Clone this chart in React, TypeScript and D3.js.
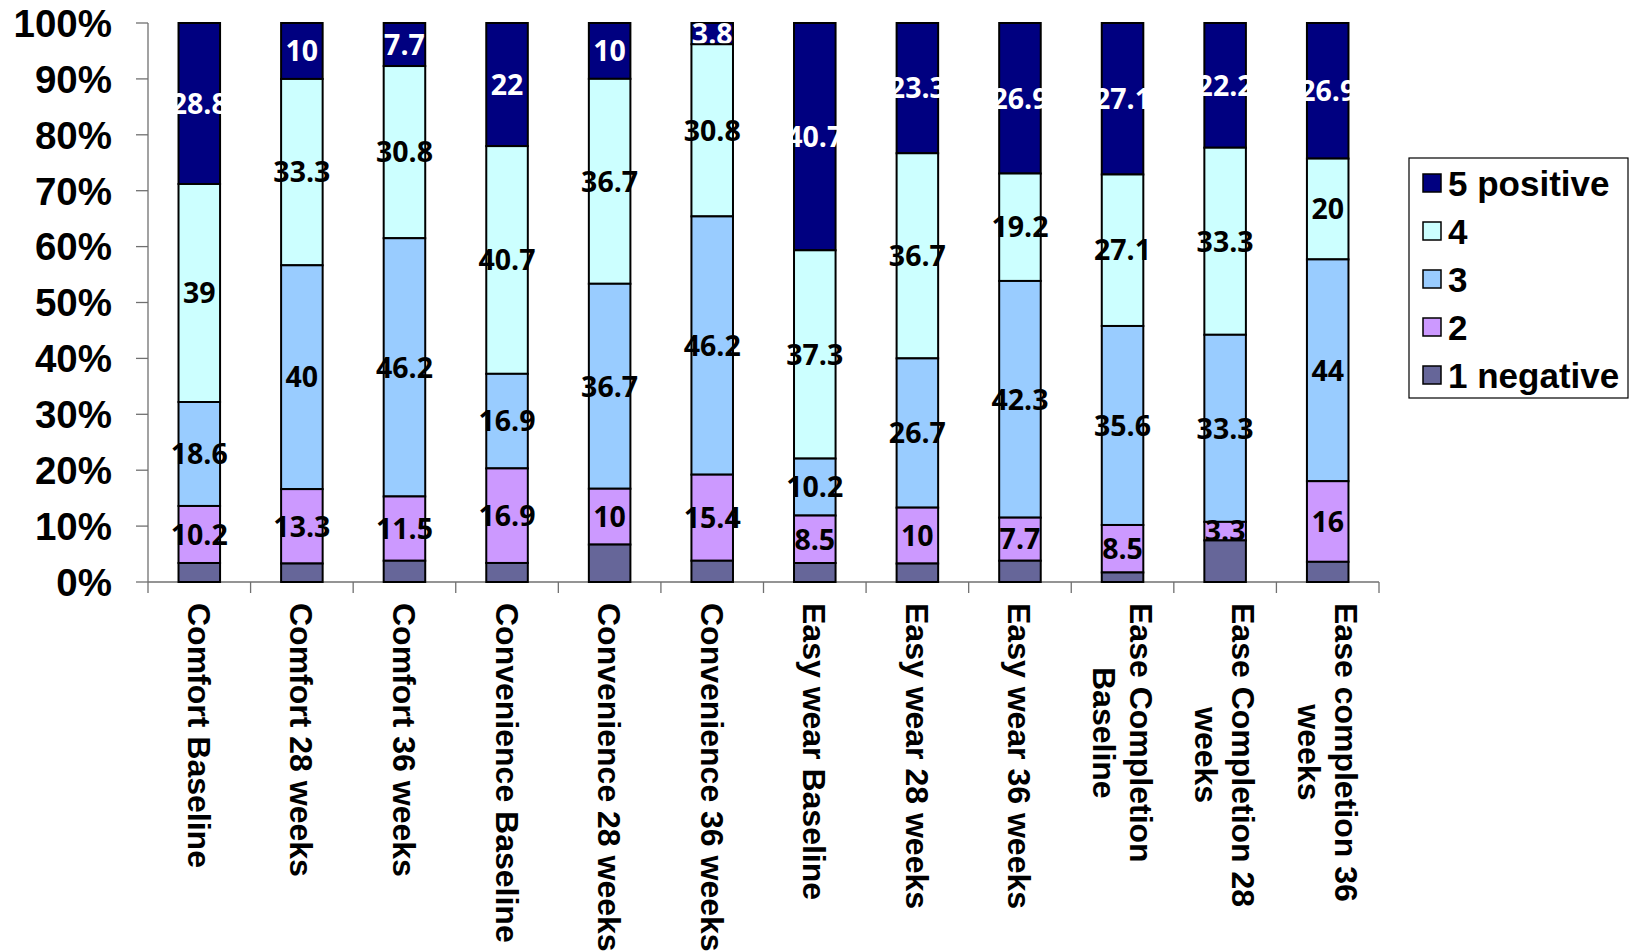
import React, { useEffect, useRef } from "react";
import * as d3 from "d3";

// Category labels (each entry is a list of text lines)
const categoryLabels: string[][] = [
  ["Comfort Baseline"],
  ["Comfort 28 weeks"],
  ["Comfort 36 weeks"],
  ["Convenience Baseline"],
  ["Convenience 28 weeks"],
  ["Convenience 36 weeks"],
  ["Easy wear Baseline"],
  ["Easy wear 28 weeks"],
  ["Easy wear 36 weeks"],
  ["Ease Completion", "Baseline"],
  ["Ease Completion 28", "weeks"],
  ["Ease completion 36", "weeks"],
];

// Percent of responses per rating, per category
const rating1 = [3.4, 3.3, 3.8, 3.4, 6.7, 3.8, 3.4, 3.3, 3.8, 1.7, 7.4, 4];
const rating2 = [10.2, 13.3, 11.5, 16.9, 10, 15.4, 8.5, 10, 7.7, 8.5, 3.3, 16];
const rating3 = [18.6, 40, 46.2, 16.9, 36.7, 46.2, 10.2, 26.7, 42.3, 35.6, 33.3, 44];
const rating4 = [39, 33.3, 30.8, 40.7, 36.7, 30.8, 37.3, 36.7, 19.2, 27.1, 33.3, 20];
const rating5 = [28.8, 10, 7.7, 22, 10, 3.8, 40.7, 23.3, 26.9, 27.1, 22.2, 26.9];

const seriesKeys = ["r1", "r2", "r3", "r4", "r5"];
const seriesNames = ["1 negative", "2", "3", "4", "5 positive"];
const seriesColors = ["#666699", "#CC99FF", "#99CCFF", "#CCFFFF", "#000080"];
const labelColors = [null, "#000000", "#000000", "#000000", "#ffffff"];

const yTickValues = [0, 0.1, 0.2, 0.3, 0.4, 0.5, 0.6, 0.7, 0.8, 0.9, 1];

const W = 1631;
const H = 952;
const plot = { left: 148, right: 1379, top: 23, bottom: 582 };

const AXIS_FONT = "'Liberation Sans', Arial, sans-serif";
const LABEL_FONT = "'Open Sans', 'DejaVu Sans', sans-serif";

export default function App() {
  const ref = useRef<SVGSVGElement | null>(null);

  useEffect(() => {
    const svg = d3.select(ref.current);
    svg.selectAll("*").remove();

    const rows = categoryLabels.map((lines, i) => ({
      key: lines.join(" "),
      lines,
      r1: rating1[i],
      r2: rating2[i],
      r3: rating3[i],
      r4: rating4[i],
      r5: rating5[i],
    }));

    const stacked = d3
      .stack<any>()
      .keys(seriesKeys)
      .offset(d3.stackOffsetExpand)(rows);

    const x = d3
      .scaleBand<string>()
      .domain(rows.map((r) => r.key))
      .range([plot.left, plot.right])
      .paddingInner(0.595)
      .paddingOuter(0.2975);

    const y = d3.scaleLinear().domain([0, 1]).range([plot.bottom, plot.top]);

    const axisColor = "#707070";

    // Y axis
    const gy = svg.append("g");
    gy.append("line")
      .attr("x1", plot.left)
      .attr("x2", plot.left)
      .attr("y1", y(0))
      .attr("y2", y(1))
      .attr("stroke", axisColor)
      .attr("stroke-width", 1.3);
    gy.selectAll("line.tick")
      .data(yTickValues)
      .join("line")
      .attr("class", "tick")
      .attr("x1", plot.left - 12)
      .attr("x2", plot.left)
      .attr("y1", (d) => y(d))
      .attr("y2", (d) => y(d))
      .attr("stroke", axisColor)
      .attr("stroke-width", 1.3);
    gy.selectAll("text")
      .data(yTickValues)
      .join("text")
      .attr("x", 112)
      .attr("y", (d) => y(d))
      .attr("dy", "0.36em")
      .attr("text-anchor", "end")
      .attr("font-family", AXIS_FONT)
      .attr("font-weight", "bold")
      .attr("font-size", 38.5)
      .attr("fill", "#000")
      .text((d) => d3.format(".0%")(d));

    // X axis
    const step = x.step();
    const boundaries = d3.range(rows.length + 1).map((i) => plot.left + i * step);
    const gx = svg.append("g");
    gx.append("line")
      .attr("x1", plot.left)
      .attr("x2", plot.right)
      .attr("y1", y(0))
      .attr("y2", y(0))
      .attr("stroke", axisColor)
      .attr("stroke-width", 1.3);
    gx.selectAll("line.tick")
      .data(boundaries)
      .join("line")
      .attr("class", "tick")
      .attr("x1", (d) => d)
      .attr("x2", (d) => d)
      .attr("y1", y(0))
      .attr("y2", y(0) + 11)
      .attr("stroke", axisColor)
      .attr("stroke-width", 1.3);

    // Rotated category labels
    const lineGap = 37;
    rows.forEach((r) => {
      const cx = (x(r.key) as number) + x.bandwidth() / 2;
      const g = gx.append("g").attr("transform", `translate(${cx},603) rotate(90)`);
      const n = r.lines.length;
      const texts = r.lines.map((line, li) =>
        g
          .append("text")
          .attr("y", (li - (n - 1) / 2) * lineGap)
          .attr("dy", "0.36em")
          .attr("text-anchor", "middle")
          .attr("font-family", AXIS_FONT)
          .attr("font-weight", "bold")
          .attr("font-size", 32)
          .attr("fill", "#000")
          .text(line)
      );
      const maxLen = d3.max(texts, (t) => (t.node() as SVGTextElement).getComputedTextLength()) || 0;
      texts.forEach((t) => t.attr("x", maxLen / 2));
    });

    // Stacked bars, drawn top series first so lower segments sit above the labels above them
    const gBars = svg.append("g");
    for (let s = stacked.length - 1; s >= 0; s--) {
      const layer = stacked[s];
      const gs = gBars.append("g");
      gs.selectAll("rect")
        .data(layer)
        .join("rect")
        .attr("x", (d: any) => x(d.data.key) as number)
        .attr("width", x.bandwidth())
        .attr("y", (d: any) => y(d[1]))
        .attr("height", (d: any) => y(d[0]) - y(d[1]))
        .attr("fill", seriesColors[s])
        .attr("stroke", "#000")
        .attr("stroke-width", 2);
      const lc = labelColors[s];
      if (lc) {
        gs.selectAll("text")
          .data(layer)
          .join("text")
          .attr("x", (d: any) => (x(d.data.key) as number) + x.bandwidth() / 2)
          .attr("y", (d: any) => (y(d[0]) + y(d[1])) / 2)
          .attr("dy", "0.36em")
          .attr("text-anchor", "middle")
          .attr("font-family", LABEL_FONT)
          .attr("font-weight", "bold")
          .attr("font-size", 28.5)
          .attr("fill", lc)
          .text((d: any) => String(d.data[seriesKeys[s]]));
      }
    }

    // Legend
    const gl = svg.append("g");
    gl.append("rect")
      .attr("x", 1409)
      .attr("y", 158)
      .attr("width", 219)
      .attr("height", 240)
      .attr("fill", "#fff")
      .attr("stroke", "#000")
      .attr("stroke-width", 1.2);
    const legendOrder = d3.range(seriesNames.length).reverse();
    legendOrder.forEach((s, i) => {
      const cy = 183 + i * 48;
      gl.append("rect")
        .attr("x", 1423)
        .attr("y", cy - 9)
        .attr("width", 18)
        .attr("height", 18)
        .attr("fill", seriesColors[s])
        .attr("stroke", "#000")
        .attr("stroke-width", 1.5);
      gl.append("text")
        .attr("x", 1448)
        .attr("y", cy)
        .attr("dy", "0.36em")
        .attr("font-family", AXIS_FONT)
        .attr("font-weight", "bold")
        .attr("font-size", 35)
        .attr("fill", "#000")
        .text(seriesNames[s]);
    });
  }, []);

  return (
    <div style={{ position: "absolute", left: 0, top: 0 }}>
      <svg ref={ref} width={W} height={H} style={{ display: "block", background: "#fff" }} />
    </div>
  );
}
